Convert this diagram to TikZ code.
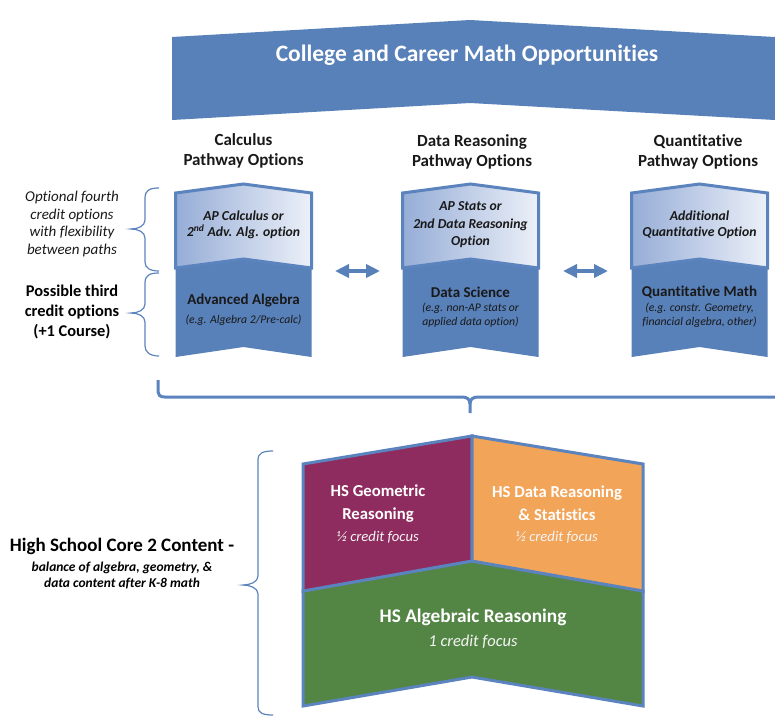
\documentclass[tikz,border=0pt]{standalone}
\usepackage{fontspec}
\setmainfont{Carlito}[Ligatures=NoCommon]
\usetikzlibrary{arrows.meta}
\definecolor{bannerblue}{RGB}{88,128,185}
\definecolor{edgeblue}{RGB}{91,131,190}
\definecolor{lightA}{RGB}{150,173,215}
\definecolor{lightB}{RGB}{236,240,248}
\definecolor{geo}{RGB}{143,44,95}
\definecolor{datao}{RGB}{242,164,88}
\definecolor{alg}{RGB}{83,133,69}
\definecolor{txt}{RGB}{25,25,25}
\tikzset{
  heading/.style={align=center, text=txt, font=\fontsize{17}{19.5}\selectfont\bfseries},
  opttext/.style={align=center, text=txt, font=\fontsize{13.7}{16.5}\selectfont\bfseries\itshape},
  coursetitle/.style={align=center, text=txt, font=\fontsize{15}{17}\selectfont\bfseries},
  coursesub/.style={align=center, text=txt, font=\fontsize{11.7}{14.5}\selectfont\itshape},
  lighttop/.style={left color=lightA, right color=lightB, draw=edgeblue, line width=3pt, line join=miter},
  dblarrow/.style={draw=bannerblue, fill=bannerblue, line width=4pt, {Triangle[length=14pt,width=13pt]}-{Triangle[length=14pt,width=13pt]}},
  bracepath/.style={draw=edgeblue, line width=1.2pt},
  corebox/.style={draw=edgeblue, line width=3pt, line join=miter},
  coretitle/.style={align=center, text=white, font=\fontsize{16.7}{23}\selectfont\bfseries},
  coresub/.style={align=center, text=white!92!gray, font=\fontsize{14.7}{16}\selectfont\itshape}
}
\begin{document}
\begin{tikzpicture}[x=1pt,y=-1pt]
\useasboundingbox (0,0) rectangle (775,716);
% banner
\fill[bannerblue] (172,37) -- (470,20) -- (775,37) -- (775,120) -- (470,103) -- (172,120) -- cycle;
\node[text=white, font=\fontsize{23.5}{26}\selectfont\bfseries] (banner) at (467,55) {College and Career Math Opportunities};
% headings
\node[heading] (hcalc) at (243.5,151) {Calculus\\Pathway Options};
\node[heading] (hdata) at (472,152) {Data Reasoning\\Pathway Options};
\node[heading] (hquant) at (698,152) {Quantitative\\Pathway Options};
% pathway boxes
\foreach \cx in {243.5,470.5,699.5}{
  \fill[bannerblue] (\cx-68,266) -- (\cx,257) -- (\cx+68,266) -- (\cx+68,357) -- (\cx,347) -- (\cx-68,357) -- cycle;
  \path[lighttop] (\cx-68,193) -- (\cx,184) -- (\cx+68,193) -- (\cx+68,268) -- (\cx,259) -- (\cx-68,268) -- cycle;
}
\node[opttext] (calcopt) at (243.5,225) {AP Calculus or\\2\textsuperscript{nd} Adv. Alg. option};
\node[opttext, font=\fontsize{13.7}{17.5}\selectfont\bfseries\itshape] (dataopt) at (470.5,225) {AP Stats or\\2nd Data Reasoning\\Option};
\node[opttext] (quantopt) at (699.5,225) {Additional\\Quantitative Option};
\node[coursetitle] (calctitle) at (243.5,300) {Advanced Algebra};
\node[coursesub] (calcsub) at (243.5,320) {(e.g. Algebra 2/Pre-calc)};
\node[coursetitle] (datatitle) at (470.5,292) {Data Science};
\node[coursesub] (datasub) at (470.5,315) {(e.g. non-AP stats or\\applied data option)};
\node[coursetitle] (quanttitle) at (699.5,292) {Quantitative Math};
\node[coursesub] (quantsub) at (699.5,315) {(e.g. constr. Geometry,\\financial algebra, other)};
% double arrows
\coordinate (a1l) at (335,271);
\coordinate (a1r) at (380,271);
\coordinate (a2l) at (563,271);
\coordinate (a2r) at (608,271);
\draw[dblarrow] (a1l) -- (a1r);
\draw[dblarrow] (a2l) -- (a2r);
% left braces
\draw[bracepath] (159,188) .. controls (150,188) and (145,190) .. (145,198) -- (145,220)
  .. controls (145,226) and (138,229) .. (131,229) .. controls (138,229) and (145,232) .. (145,238)
  -- (145,262) .. controls (145,268) and (150,271) .. (159,271);
\draw[bracepath] (159,273) .. controls (150,273) and (145,275) .. (145,283) -- (145,304)
  .. controls (145,310) and (138,313) .. (131,313) .. controls (138,313) and (145,316) .. (145,322)
  -- (145,346) .. controls (145,352) and (150,356) .. (159,356);
\node[align=center, text=txt, font=\fontsize{15}{17.5}\selectfont\itshape] (optfourth) at (72,224) {Optional fourth\\credit options\\with flexibility\\between paths};
\node[align=center, text=black, font=\fontsize{16.4}{20}\selectfont\bfseries] (possthird) at (72,312) {Possible third\\credit options\\(+1 Course)};
% horizontal bracket
\draw[draw=edgeblue, line width=3pt] (158,380) -- (158,392) .. controls (158,395) and (160,397) .. (165,397)
  -- (462,397) .. controls (467,397) and (470,399) .. (470,404) -- (470,413);
\draw[draw=edgeblue, line width=3pt] (470,404) .. controls (470,399) and (473,397) .. (478,397) -- (776,397);
% big bottom brace
\draw[bracepath] (273,451) .. controls (263,451) and (258,453) .. (258,460) -- (258,576)
  .. controls (258,582) and (250,585) .. (243,585) .. controls (250,585) and (258,588) .. (258,594)
  -- (258,707) .. controls (258,713) and (263,715) .. (273,715);
\node[align=center, text=black, font=\fontsize{19}{22}\selectfont\bfseries] (coretext) at (122,546) {High School Core 2 Content -};
\node[align=center, text=black, font=\fontsize{13.5}{15.5}\selectfont\bfseries\itshape] (coresubtext) at (122,575.5) {balance of algebra, geometry, \&\\data content after K-8 math};
% core chevron
\path[corebox, fill=alg] (303,591) -- (472,561) -- (643,591) -- (643,706) -- (472,677) -- (303,706) -- cycle;
\path[corebox, fill=geo] (303,464) -- (472,436) -- (472,561) -- (303,591) -- cycle;
\path[corebox, fill=datao] (472,436) -- (643,464) -- (643,591) -- (472,561) -- cycle;
\node[coretitle] (geotitle) at (378,503.5) {HS Geometric\\Reasoning};
\node[coresub] (geosub) at (378,537) {½ credit focus};
\node[coretitle] (datatitle2) at (557,503.5) {HS Data Reasoning\\\& Statistics};
\node[coresub] (datasub2) at (557,537) {½ credit focus};
\node[coretitle, font=\fontsize{19.3}{22}\selectfont\bfseries] (algtitle) at (473,617) {HS Algebraic Reasoning};
\node[coresub, font=\fontsize{16.5}{17}\selectfont\itshape] (algsub) at (473,642) {1 credit focus};
\end{tikzpicture}
\end{document}
